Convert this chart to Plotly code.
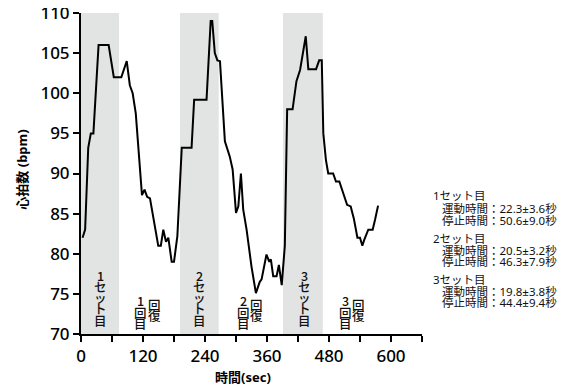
import plotly.graph_objects as go

# ---- data ----
time_sec = [3, 8, 14, 19, 24, 34, 53.5, 63.5, 78, 88.5, 94.5, 100, 106, 118, 123, 128, 133.5,
            149.5, 154.5, 159.3, 164.5, 169, 175.5, 180, 186.5, 195, 214, 219, 243, 251, 254,
            259, 264, 269, 278.5, 288, 293.5, 300, 304.5, 309.5, 314, 320.5, 330, 338.5, 346,
            349.5, 359, 364.5, 367.5, 372, 378.5, 383, 388.5, 394.5, 399, 409.5, 417, 424, 435,
            440, 455, 461, 466, 469, 474, 478.5, 488, 493.5, 500, 507.5, 515, 522, 528, 535,
            540, 544.5, 548, 556, 564.5, 569, 575]
heart_rate = [82, 83, 93.2, 95, 95, 106, 106, 102, 102, 104, 101, 100, 97.5, 87.3, 88, 87.1, 86.9,
              81, 81, 83, 81.5, 82, 79, 79, 82.2, 93.2, 93.2, 99.2, 99.2, 109, 109,
              105, 104.1, 104, 94, 92.1, 90.5, 85.1, 85.9, 90, 85.5, 83, 78.4, 75.1, 76.5,
              76.8, 79.9, 79, 79.3, 77.2, 77.2, 78.6, 76.1, 81, 98, 98, 101.5, 102.9, 107.1,
              103, 103, 104.1, 104.1, 95, 91.7, 90, 90, 89, 89, 87.6, 86.1, 85.9, 84.4, 82,
              82, 81, 81.7, 83, 83, 84.2, 86]

set_start = [0, 191.5, 391]
set_end = [73.5, 266.5, 468]
set_labels = ["1セット目", "2セット目", "3セット目"]
rec_num_labels = ["1回目", "2回目", "3回目"]
rec_word = "回復"

x_tickvals = [0, 60, 120, 180, 240, 300, 360, 420, 480, 540, 600, 660]
x_ticktext = ["0", "", "120", "", "240", "", "360", "", "480", "", "600", ""]
y_tickvals = [70, 75, 80, 85, 90, 95, 100, 105, 110]

stats_lines = [
    ("1セット目", 0),
    ("運動時間：22.3±3.6秒", 1),
    ("停止時間：50.6±9.0秒", 1),
    ("2セット目", 0),
    ("運動時間：20.5±3.2秒", 1),
    ("停止時間：46.3±7.9秒", 1),
    ("3セット目", 0),
    ("運動時間：19.8±3.8秒", 1),
    ("停止時間：44.4±9.4秒", 1),
]

# ---- layout geometry (pixels, in screen coords; page body has an 8px margin) ----
OFF = 8
W, H = 567 - OFF, 387 - OFF
L, R, T, B = 81, 421.7, 13.3, 334.3   # plot area in screen pixels
PW, PH = R - L, B - T


def px(xp):
    return (xp - L) / PW


def py(yp):
    return (B - yp) / PH


FONT = "Noto Sans, Noto Sans CJK JP, sans-serif"
CJK = "Noto Sans CJK JP, Noto Sans, sans-serif"

fig = go.Figure()

shapes = []
for s, e in zip(set_start, set_end):
    shapes.append(dict(type="rect", xref="x", yref="y", x0=s, x1=e, y0=70, y1=110,
                       fillcolor="#e2e3e3", line=dict(width=0), layer="below"))

fig.add_trace(go.Scatter(x=time_sec, y=heart_rate, mode="lines",
                         line=dict(color="black", width=2), showlegend=False,
                         hoverinfo="skip"))

annotations = []


def vtext(chars, xp, ycenters, size=12.5):
    for ch, yc in zip(chars, ycenters):
        annotations.append(dict(text=ch, xref="paper", yref="paper", x=px(xp), y=py(yc),
                                xanchor="center", yanchor="middle", showarrow=False,
                                font=dict(family=CJK, size=size, color="#111", weight=500)))


set_x = [100, 199, 304]
recnum_x = [140.7, 243.3, 345]
recword_x = [154, 256.3, 358.3]
set_y = [276, 287, 298, 308.5, 321]
recnum_y = [301, 312.5, 324]
recword_y = [305, 316]
for i in range(3):
    vtext(list(set_labels[i]), set_x[i], set_y)
    vtext(list(rec_num_labels[i]), recnum_x[i], recnum_y)
    vtext(list(rec_word), recword_x[i], recword_y)

stats_y = [196, 209, 221, 239, 250.5, 262, 280, 291.5, 303]
for (txt, lvl), yc in zip(stats_lines, stats_y):
    annotations.append(dict(text=txt, xref="paper", yref="paper",
                            x=px(431 if lvl == 0 else 440), y=py(yc),
                            xanchor="left", yanchor="middle", showarrow=False,
                            font=dict(family=FONT, size=11.5, color="#111")))

annotations.append(dict(text="<b>心拍数 (bpm)</b>", xref="paper", yref="paper",
                        x=px(22), y=py(170), textangle=-90, xanchor="center",
                        yanchor="middle", showarrow=False,
                        font=dict(family=FONT, size=13, color="black")))
annotations.append(dict(text="<b>時間(sec)</b>", xref="paper", yref="paper",
                        x=px(243), y=py(377), xanchor="center", yanchor="middle",
                        showarrow=False, font=dict(family=FONT, size=13, color="black")))

tickfont = dict(family=FONT, size=17, color="black", weight=500)
fig.update_layout(
    width=W, height=H,
    margin=dict(l=L - OFF, r=W - (R - OFF), t=T - OFF, b=H - (B - OFF), pad=0, autoexpand=False),
    paper_bgcolor="white", plot_bgcolor="white",
    shapes=shapes, annotations=annotations,
    xaxis=dict(range=[0, 660], tickvals=x_tickvals, ticktext=x_ticktext,
               ticks="outside", ticklen=6, tickwidth=2, tickcolor="black",
               showline=True, linecolor="black", linewidth=2, showgrid=False,
               zeroline=False, tickfont=tickfont, ticklabeloverflow="allow"),
    yaxis=dict(range=[70, 110], tickvals=y_tickvals,
               ticks="outside", ticklen=6, tickwidth=2, tickcolor="black",
               showline=True, linecolor="black", linewidth=2, showgrid=False,
               zeroline=False, tickfont=tickfont, ticklabeloverflow="allow"),
)

fig.write_html("out.html")
